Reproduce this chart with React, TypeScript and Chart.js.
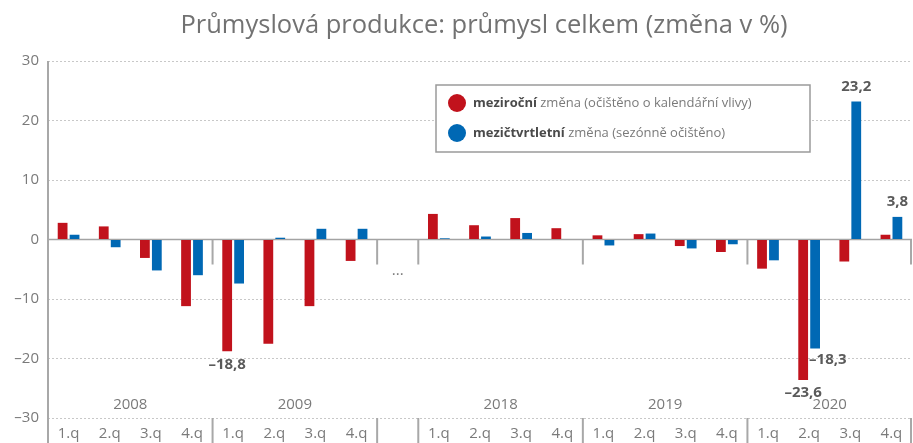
import React, { useEffect, useRef } from "react";
import { Chart, registerables } from "chart.js";

Chart.register(...registerables);

const titleText = "Průmyslová produkce: průmysl celkem (změna v %)";
const quarterLabels = [
  "1.q", "2.q", "3.q", "4.q",
  "1.q", "2.q", "3.q", "4.q",
  "",
  "1.q", "2.q", "3.q", "4.q",
  "1.q", "2.q", "3.q", "4.q",
  "1.q", "2.q", "3.q", "4.q",
];
const yearLabels = ["2008", "2009", "", "2018", "2019", "2020"];
const yearGroupSizes = [4, 4, 1, 4, 4, 4];
const gapMarker = "...";

const yoyName = ["meziroční", " změna (očištěno o kalendářní vlivy)"];
const qoqName = ["mezičtvrtletní", " změna (sezónně očištěno)"];

const yoyValues = [
  2.8, 2.2, -3.1, -11.2,
  -18.8, -17.5, -11.2, -3.6,
  null,
  4.3, 2.4, 3.6, 1.9,
  0.7, 0.9, -1.1, -2.1,
  -4.9, -23.6, -3.7, 0.8,
];
const qoqValues = [
  0.8, -1.3, -5.2, -6.0,
  -7.4, 0.3, 1.8, 1.8,
  null,
  0.2, 0.5, 1.1, 0,
  -1.0, 1.0, -1.5, -0.8,
  -3.5, -18.3, 23.2, 3.8,
];
const yMin = -30;
const yMax = 30;
const yStep = 10;

const valueLabels = [
  { series: 0, index: 4, text: "–18,8" },
  { series: 0, index: 18, text: "–23,6" },
  { series: 1, index: 18, text: "–18,3" },
  { series: 1, index: 19, text: "23,2" },
  { series: 1, index: 20, text: "3,8" },
];

const RED = "#c1121c";
const BLUE = "#0068b4";
const FONT = "'Open Sans', 'Noto Sans', sans-serif";

const decorPlugin = {
  id: "decor",
  beforeDatasetsDraw(chart: any) {
    const { ctx, chartArea, scales } = chart;
    const x = scales.x;
    const y = scales.y;
    const y0 = y.getPixelForValue(0);
    ctx.save();
    // zero line
    ctx.strokeStyle = "#a3a3a3";
    ctx.lineWidth = 1.5;
    ctx.beginPath();
    ctx.moveTo(chartArea.left, y0);
    ctx.lineTo(chartArea.right, y0);
    ctx.stroke();
    // group separators
    ctx.lineWidth = 2;
    ctx.strokeStyle = "#a8a8a8";
    let k = 0;
    yearGroupSizes.forEach((n) => {
      k += n;
      const px = Math.min(x.getPixelForValue(k - 0.5), chartArea.right - 1);
      ctx.beginPath();
      ctx.moveTo(px, y0);
      ctx.lineTo(px, y0 + 25);
      ctx.moveTo(px, chartArea.bottom);
      ctx.lineTo(px, chart.height);
      ctx.stroke();
    });
    // y axis line extending down
    ctx.beginPath();
    ctx.moveTo(chartArea.left, chartArea.top);
    ctx.lineTo(chartArea.left, chart.height);
    ctx.stroke();
    // year labels
    ctx.fillStyle = "#7a7a7a";
    ctx.font = `15px ${FONT}`;
    ctx.textAlign = "center";
    ctx.textBaseline = "middle";
    let start = 0;
    yearGroupSizes.forEach((n, gi) => {
      const a = x.getPixelForValue(start - 0.5);
      const b = x.getPixelForValue(start + n - 0.5);
      if (yearLabels[gi]) ctx.fillText(yearLabels[gi], (a + b) / 2, chartArea.bottom - 13);
      else ctx.fillText(gapMarker, (a + b) / 2, y.getPixelForValue(-5.2));
      start += n;
    });
    ctx.restore();
  },
  afterDraw(chart: any) {
    const { ctx, chartArea } = chart;
    ctx.save();
    // title
    ctx.fillStyle = "#727272";
    ctx.font = `25.5px ${FONT}`;
    ctx.textAlign = "center";
    ctx.textBaseline = "middle";
    ctx.fillText(titleText, (chartArea.left + chartArea.right) / 2 + 4, 26);
    // value labels
    ctx.font = `bold 15px ${FONT}`;
    ctx.fillStyle = "#5a5a5a";
    valueLabels.forEach((l) => {
      const el = chart.getDatasetMeta(l.series).data[l.index];
      const v = (l.series === 0 ? yoyValues : qoqValues)[l.index] as number;
      if (l.series === 1 && l.index === 18) {
        ctx.textAlign = "left";
        ctx.fillText(l.text, el.x - 6, el.y + 11);
      } else {
        ctx.textAlign = "center";
        ctx.fillText(l.text, el.x, v < 0 ? el.y + 13 : el.y - 15);
      }
    });
    // legend
    const bx = 436, by = 85, bw = 374, bh = 67;
    ctx.fillStyle = "#ffffff";
    ctx.fillRect(bx, by, bw, bh);
    ctx.strokeStyle = "#9a9a9a";
    ctx.lineWidth = 1.5;
    ctx.strokeRect(bx, by, bw, bh);
    const rows = [
      { color: RED, parts: yoyName, y: by + 18 },
      { color: BLUE, parts: qoqName, y: by + 48 },
    ];
    rows.forEach((r) => {
      ctx.fillStyle = r.color;
      ctx.beginPath();
      ctx.arc(bx + 21, r.y, 9, 0, Math.PI * 2);
      ctx.fill();
      ctx.textAlign = "left";
      ctx.textBaseline = "middle";
      ctx.font = `bold 13px ${FONT}`;
      ctx.fillStyle = "#4a4a4a";
      ctx.fillText(r.parts[0], bx + 37, r.y);
      const w = ctx.measureText(r.parts[0]).width;
      ctx.font = `13px ${FONT}`;
      ctx.fillStyle = "#7a7a7a";
      ctx.fillText(r.parts[1], bx + 37 + w, r.y);
    });
    ctx.restore();
  },
};

export default function App() {
  const ref = useRef<HTMLCanvasElement>(null);
  useEffect(() => {
    if (!ref.current) return;
    const chart = new Chart(ref.current, {
      type: "bar",
      data: {
        labels: quarterLabels,
        datasets: [
          { label: yoyName.join(""), data: yoyValues, backgroundColor: RED, borderWidth: 0 },
          { label: qoqName.join(""), data: qoqValues, backgroundColor: BLUE, borderWidth: 0 },
        ],
      },
      options: {
        responsive: false,
        animation: false,
        layout: { padding: { top: 61, left: 0, right: 1, bottom: 0 } },
        datasets: { bar: { categoryPercentage: 0.58, barPercentage: 0.82 } },
        plugins: {
          legend: { display: false },
          title: { display: false },
          tooltip: { enabled: false },
        },
        scales: {
          x: {
            type: "category",
            grid: { display: false, drawTicks: false },
            border: { display: false },
            ticks: {
              autoSkip: false,
              maxRotation: 0,
              color: "#7a7a7a",
              font: { family: FONT, size: 15 },
              padding: 7,
            },
            afterFit: (s: any) => { s.height = 25; },
          },
          y: {
            min: yMin,
            max: yMax,
            ticks: {
              stepSize: yStep,
              color: "#7a7a7a",
              font: { family: FONT, size: 15 },
              padding: 9,
              callback: (v: any) => (Number(v) < 0 ? "–" + Math.abs(Number(v)) : String(v)),
            },
            grid: {
              drawTicks: false,
              lineWidth: 1,
              color: (c: any) => (c.tick && c.tick.value === 0 ? "rgba(0,0,0,0)" : "#c8c8c8"),
            },
            border: { display: false, dash: [2, 2] },
            afterFit: (s: any) => { s.width = 48; },
          },
        },
      },
      plugins: [decorPlugin],
    });
    return () => chart.destroy();
  }, []);
  return (
    <div style={{ position: "fixed", left: 0, top: 0, width: 913, height: 443, background: "#fff" }}>
      <canvas ref={ref} width={913} height={443} />
    </div>
  );
}
